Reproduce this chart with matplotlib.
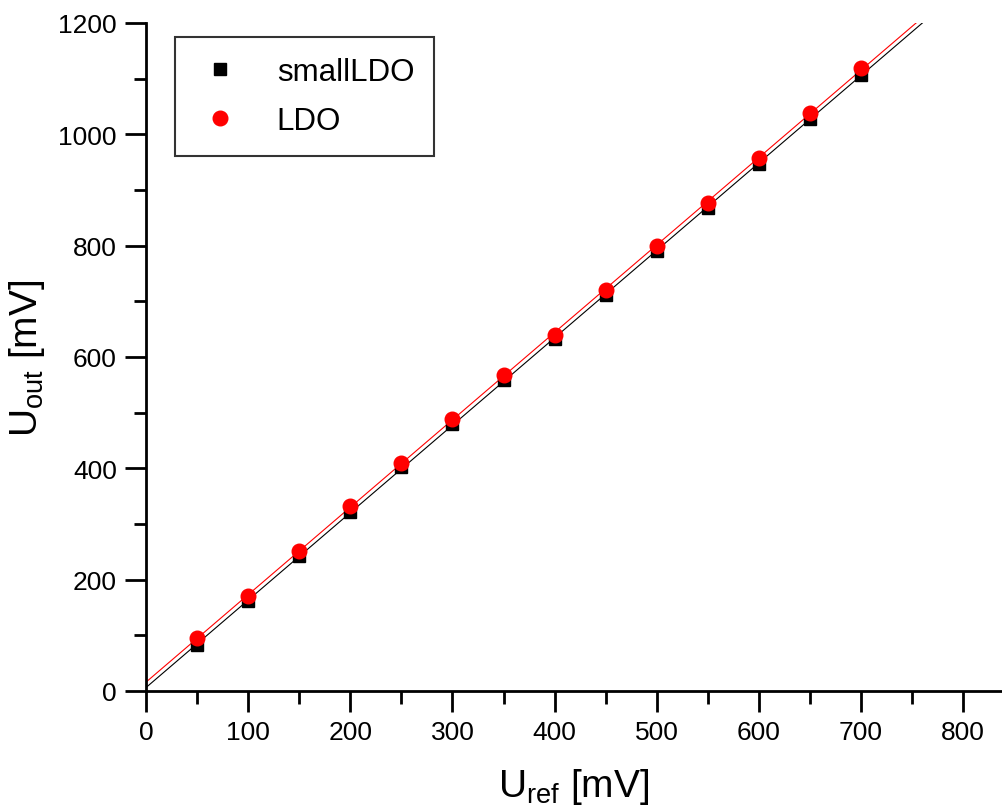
import numpy as np
import matplotlib
matplotlib.use("Agg")
import matplotlib.pyplot as plt

plt.rcParams['font.family'] = ['Liberation Sans', 'DejaVu Sans']

# Uref in mV
u_ref = [50, 100, 150, 200, 250, 300, 350, 400, 450, 500, 550, 600, 650, 700]
# measured Uout in mV
small_ldo = [82, 161, 243, 322, 402, 479, 558, 633, 712, 790, 868, 947, 1028, 1107]
ldo = [95, 171, 252, 332, 410, 489, 568, 640, 720, 799, 876, 958, 1039, 1119]

fig = plt.figure(figsize=(10.02, 8.12), dpi=100)
ax = fig.add_axes([0.1457, 0.1478, 0.8543, 0.8227])

# linear fits
xfit = np.array([0, 760])
p1 = np.polyfit(u_ref, small_ldo, 1)
p2 = np.polyfit(u_ref, ldo, 1)
ax.plot(xfit, np.polyval(p1, xfit), color='black', lw=0.8, zorder=2)
ax.plot(xfit, np.polyval(p2, xfit), color='red', lw=0.8, zorder=2)

ax.plot(u_ref, small_ldo, 's', color='black', ms=9, label='smallLDO', zorder=3)
ax.plot(u_ref, ldo, 'o', color='red', ms=10.5, label='LDO', zorder=4)

ax.set_xlim(0, 838)
ax.set_ylim(0, 1200)
ax.set_xticks(range(0, 900, 100))
ax.set_xticks(range(50, 800, 100), minor=True)
ax.set_yticks(range(0, 1400, 200))
ax.set_yticks(range(100, 1200, 200), minor=True)

for s in ['top', 'right']:
    ax.spines[s].set_visible(False)
for s in ['left', 'bottom']:
    ax.spines[s].set_linewidth(2)

ax.tick_params(which='major', direction='out', length=15, width=2, labelsize=19, pad=6)
ax.tick_params(which='minor', direction='out', length=9, width=2)

ax.set_xlabel(r'U$_{\mathregular{ref}}$ [mV]', fontsize=28, labelpad=16)
ax.set_ylabel(r'U$_{\mathregular{out}}$ [mV]', fontsize=28, labelpad=8)

leg = ax.legend(loc='upper left', bbox_to_anchor=(0.034, 0.979), borderaxespad=0,
                fontsize=22.5, frameon=True, fancybox=False, edgecolor='black',
                handletextpad=1.0, borderpad=0.65, labelspacing=0.6, handlelength=1.6)
leg.get_frame().set_linewidth(1.5)

fig.savefig('out.png', dpi=100)
